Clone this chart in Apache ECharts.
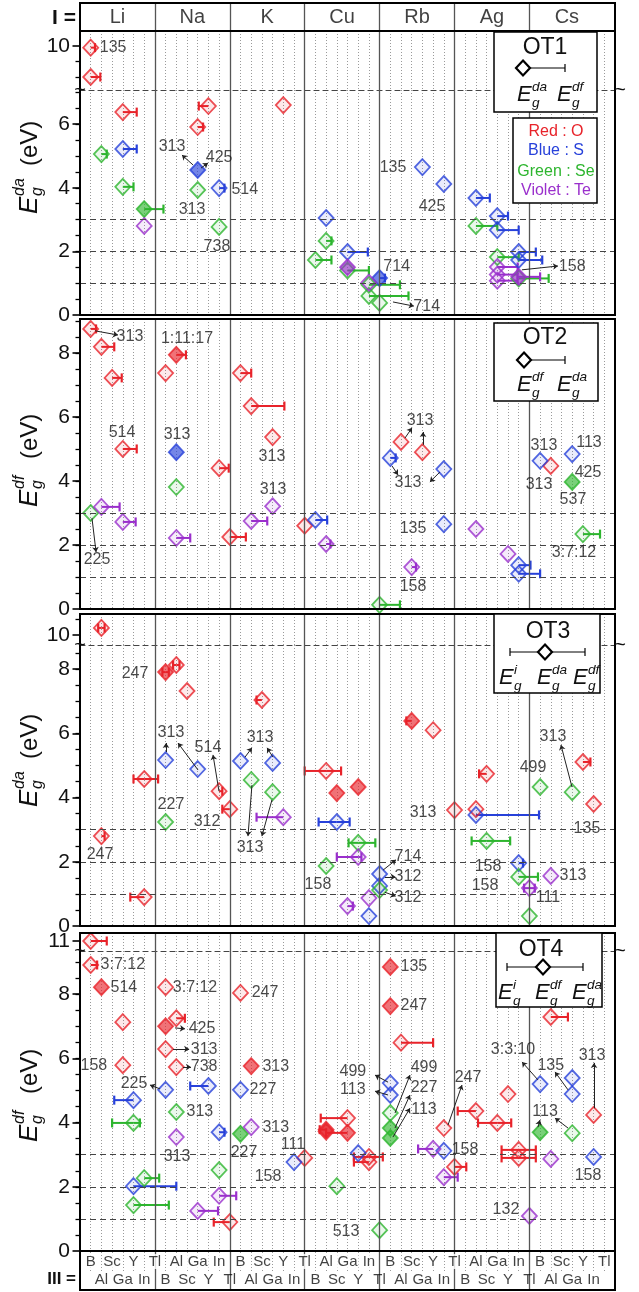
<!DOCTYPE html>
<html><head><meta charset="utf-8">
<script src="https://cdn.jsdelivr.net/npm/echarts@6/dist/echarts.min.js"></script>
<style>html,body{margin:0;padding:0;background:#fff}#c{width:639px;height:1292px}</style>
</head><body><div id="c"></div>
<script>
// ---------- categories ----------
const groups = ['Li','Na','K','Cu','Rb','Ag','Cs'];
const elements = ['B','Al','Sc','Ga','Y','In','Tl'];
// ---------- tick labels ----------
const ticksOT1Up = [10], ticksOT1Lo = [0,2,4,6];
const ticksOT2 = [0,2,4,6,8];
const ticksOT3Up = [10], ticksOT3Lo = [0,2,4,6,8];
const ticksOT4Up = [11], ticksOT4Lo = [0,2,4,6,8];
const refLines = [1,2,3];
const separators = [7,14,21,28,35,42];
// ---------- markers: [column 1..49, Eg (eV), bar left (cols), bar right (cols), filled] ----------
const ot1O = [[1,9.94,0,0.4,0],[1,9.0,0,0.9,0],[4,6.38,0,1.3,0],[12,6.57,-0.9,0,0],[11,5.91,0,0.5,0],[19,6.6,0,0,0]];
const ot1S = [[4,5.22,0,1.3,0],[11,4.56,0,0,1],[13,3.99,0,0.5,0],[23,3.05,0,0,0],[25,1.98,0,1.9,0],[28,1.16,0,0.5,1],
  [32,4.65,0,0,0],[34,4.12,0,0,0],[37,3.68,0,1.3,0],[39,3.11,0,1.0,0],[39,2.67,0,2.0,0],[41,1.98,0,1.6,0],[41,1.73,0,2.2,0]];
const ot1Se = [[2,5.06,0,0.5,0],[4,4.03,0,1.0,0],[6,3.33,0,1.8,1],[11,3.93,0,0,0],[13,2.77,0,0,0],[22,1.73,0,1.5,0],
  [23,2.33,0,0.5,0],[25,1.4,0,2.0,0],[27,0.95,0,2.9,0],[27,0.6,0,3.7,0],[28,0.38,0,0,0],[37,2.8,0,2.0,0],[39,1.82,0,2.0,0],[41,1.15,0,2.8,0]];
const ot1Te = [[6,2.8,0,0,0],[25,1.5,0,0,1],[27,1.02,0,0,0],[39,1.51,0,1.9,0],[39,1.27,0,1.9,0],[39,1.08,0,1.9,0],[41,1.2,0,2.0,1]];

const ot2O = [[1,8.75,0,0.5,0],[2,8.19,0,1.2,0],[3,7.22,0,0.9,0],[4,5.0,0,1.3,0],[8,7.37,0,0,0],[9,7.94,0,0.9,1],
  [13,4.4,0,0.9,0],[14,2.25,0,1.5,0],[15,7.37,0,1.0,0],[16,6.34,0,3.1,0],[18,5.37,0,0,0],[21,2.6,0,0,0],
  [30,5.22,0,0,0],[32,4.9,0,0,0],[44,4.47,0,0,0]];
const ot2S = [[9,4.9,0,0,1],[22,2.78,0,1.1,0],[29,4.72,0,0.5,0],[34,4.37,0,0,0],[34,2.65,0,0,0],[41,1.37,0,1.1,0],
  [41,1.1,0,2.0,0],[43,4.63,0,0,0],[46,4.84,0,0,0]];
const ot2Se = [[1,3.0,0,0,0],[9,3.81,0,0,0],[28,0.13,0,1.9,0],[46,3.97,0,0,1],[47,2.34,0,1.6,0]];
const ot2Te = [[2,3.19,0,1.7,0],[4,2.72,0,1.2,0],[9,2.22,0,1.3,0],[16,2.75,0,1.5,0],[18,3.21,0,0,0],[23,2.03,0,0.4,0],
  [31,1.31,0,0.4,0],[37,2.5,0,0,0],[40,1.72,0,0,0]];

const ot3O = [[2,10.22,-0.3,0.3,0],[2,2.8,0,0.3,0],[6,4.58,-1.0,1.3,0],[6,0.9,-1.3,0,0],[8,7.91,-0.3,0.3,1],[9,8.13,-0.3,0.3,0],
  [10,7.32,0,0,0],[13,4.2,0,0.3,0],[14,3.64,-0.7,0,0],[17,7.04,-0.5,0,0],[23,4.83,-2.0,1.4,0],[24,4.14,0,0,1],[26,4.33,0,0,1],
  [31,6.39,-0.5,0,1],[33,6.1,0,0,0],[35,3.61,0,0,0],[37,3.64,0,0,0],[38,4.74,-0.7,0,0],[47,5.11,0,0.7,0],[48,3.8,0,0,0]];
const ot3S = [[8,5.17,0,0,0],[11,4.89,0,0,0],[15,5.14,0,0,0],[18,5.08,0,0,0],[24,3.24,-1.7,1.2,0],[27,0.31,0,0,0],
  [28,1.62,0,0,0],[28,1.25,0,0,0],[37,3.46,0,5.9,0],[41,1.96,0,0.4,0]];
const ot3Se = [[8,3.24,0,0,0],[16,4.55,0,0,0],[18,4.17,0,0,0],[23,1.87,0,0,0],[26,2.59,-0.9,1.6,0],[28,1.12,0,0,0],
  [38,2.65,-1.4,2.2,0],[41,1.53,0,1.8,0],[42,0.31,0,0,0],[43,4.33,0,0,0],[46,4.17,0,0,0]];
const ot3Te = [[19,3.39,-2.5,0,0],[25,0.62,0,0.5,0],[26,2.15,-2.0,0.3,0],[27,0.87,0,0,0],[42,1.18,-0.5,0.5,0],[44,1.56,0,0,0]];

const ot4O = [[1,11.0,0,1.5,0],[1,8.91,0,0.6,0],[2,8.22,0,0,1],[4,7.13,0,0,0],[4,5.79,0,0,0],[8,8.22,0,0,0],[8,7.0,0,0,1],
  [9,7.25,0,0.8,0],[8,6.29,0,0,0],[9,5.73,0,0,0],[14,0.9,-1.5,0,0],[15,8.04,0,0,0],[16,5.76,0,0,1],[21,2.9,0,0,0],
  [23,3.78,-0.6,0,1],[23,3.72,0,0,1],[25,4.14,-2.5,0,0],[25,3.68,-2.0,0,1],[27,2.93,-1.4,1.3,0],[27,2.77,-1.4,0,0],
  [29,8.85,0,0,1],[29,7.63,0,0,1],[30,6.49,0,3.0,0],[34,3.83,0,0,0],[35,2.62,0,1.1,0],[37,4.36,-1.7,0,0],
  [39,3.99,-1.8,1.3,0],[40,4.89,0,0,0],[41,3.15,-1.6,1.6,0],[41,2.9,-1.6,1.6,0],[44,7.29,0,1.6,0],[48,4.24,0,0,0]];
const ot4S = [[5,4.7,-1.8,0,0],[5,2.02,0,4.0,0],[8,5.02,0,0,0],[12,5.14,-1.7,0,0],[13,3.7,0,0.5,0],[15,5.02,0,0,0],
  [20,2.77,0,0,0],[26,3.05,0,0,0],[29,5.23,0,0,0],[29,4.86,0,0,0],[34,3.12,0,0,0],[43,5.2,0,0,0],[46,5.39,0,0,0],
  [46,4.89,0,0,0],[48,2.93,0,0,0]];
const ot4Se = [[5,3.99,-2.0,0.6,0],[6,2.27,0,1.4,0],[5,1.43,0,3.3,0],[9,4.33,0,0,0],[13,2.52,0,0,0],[15,3.65,0,0,1],
  [24,2.02,0,0,0],[28,0.65,0,0,0],[29,4.3,0,0,0],[29,3.83,0,0,1],[29,3.52,0,0,1],[43,3.7,0,0,1],[46,3.67,0,0,0]];
const ot4Te = [[9,3.55,0,0,0],[11,1.25,0,1.9,0],[13,1.72,0,1.6,0],[16,3.86,0,0,0],[33,3.18,-1.4,0,0],[34,2.3,0,1.3,0],
  [42,1.09,0,0,0],[44,2.87,0,0,0]];

// ---------- annotations: [text, x, y]  and arrows: [x1,y1,x2,y2] ----------
const ot1Notes = [['135',3.1,9.94],['313',8.6,5.31],['425',13.0,4.94],['514',15.4,3.93],['313',10.47,3.33],['738',12.8,2.14],
  ['135',29.25,4.65],['425',32.9,3.4],['714',29.6,1.51],['714',32.4,0.25],['158',46.0,1.51]];
const ot1Arrows = [[10.56,4.72,9.53,5.03],[11.31,4.62,11.96,4.78],[29.25,0.41,31.2,0.28],[41.3,1.42,44.67,1.54]];
const ot2Notes = [['313',4.67,8.5],['514',3.93,5.5],['225',1.59,1.53],['1:11:17',10.0,8.44],['313',9.07,5.44],
  ['313',17.94,4.75],['313',18.04,3.72],['313',31.78,5.9],['313',30.65,3.94],['135',31.12,2.5],['158',31.12,0.69],
  ['313',43.36,5.09],['313',42.9,3.88],['113',47.57,5.19],['425',47.48,4.25],['537',46.07,3.41],['3:7:12',46.17,1.75]];
const ot2Arrows = [[1.4,8.69,3.55,8.56],[1.12,2.84,1.5,1.78],[30.37,5.34,31.03,5.66],[32.06,5.13,32.06,5.53],
  [29.16,4.47,29.72,4.19],[33.64,4.28,32.7,3.97]];
const ot3Notes = [['247',5.14,7.85],['247',1.87,2.21],['313',8.5,6.01],['514',11.96,5.55],['227',8.5,3.77],['312',11.87,3.24],
  ['313',16.82,5.86],['313',15.89,2.43],['158',22.24,1.28],['714',30.65,2.15],['312',30.65,1.53],['312',30.65,0.87],
  ['313',32.06,3.52],['158',38.13,1.84],['158',37.85,1.25],['111',43.74,0.87],['313',46.07,1.56],['499',42.34,4.92],
  ['313',44.2,5.89],['135',47.38,3.05]];
const ot3Arrows = [[8.04,5.42,8.04,5.7],[11.03,4.86,9.16,5.7],[12.99,4.2,12.43,5.33],[15.42,5.26,16.07,5.55],
  [18.04,5.26,17.48,5.55],[16.07,4.39,15.7,2.8],[17.94,3.93,17.0,2.8],[28.32,1.74,29.53,2.06],[28.5,1.53,29.5,1.53],
  [28.5,1.05,29.5,0.93],[45.98,4.33,44.95,5.64]];
const ot4Notes = [['3:7:12',4.0,8.91],['514',4.1,8.22],['158',1.3,5.79],['225',5.05,5.23],['3:7:12',10.75,8.22],
  ['425',11.4,6.92],['313',11.6,6.29],['738',11.6,5.73],['313',11.2,4.33],['313',9.07,2.93],
  ['247',17.29,8.04],['313',18.3,5.76],['227',17.1,5.02],['227',15.33,3.08],['313',18.3,3.86],['158',17.57,2.31],
  ['111',19.9,3.3],['513',24.86,0.59],['135',31.2,8.85],['247',31.2,7.63],['499',25.5,5.58],['113',25.5,5.02],
  ['499',32.15,5.7],['227',32.15,5.08],['113',32.15,4.39],['247',36.26,5.39],['158',35.98,3.15],['132',39.81,1.28],
  ['3:3:10',40.47,6.26],['135',44.0,5.79],['113',43.46,4.33],['313',47.85,6.1],['158',47.48,2.34]];
const ot4Arrows = [[7.48,5.05,6.54,5.17],[8.88,6.95,9.81,6.92],[8.7,6.29,10.2,6.29],[9.63,5.73,10.37,5.73],
  [28.79,5.26,27.57,5.48],[28.79,4.86,27.57,4.98],[29.44,4.3,30.84,5.48],[29.44,3.83,30.84,4.86],[29.25,3.55,30.84,4.45],
  [34.39,3.92,35.7,5.17],[42.8,5.33,41.31,5.89],[45.61,5.02,44.39,5.58],[42.8,3.86,42.99,4.08],[45.61,3.83,44.39,4.14],
  [48.04,4.45,48.04,5.86]];

// ---------- styling / layout ----------
const FF = "'Liberation Sans', Arial, sans-serif";
const COLORS = {O:'#e8232a', S:'#2741da', Se:'#2db52e', Te:'#9a2fcc'};
const FILLS = {O:'rgba(232,35,42,0.12)', S:'rgba(39,65,218,0.12)', Se:'rgba(45,181,46,0.12)', Te:'rgba(154,47,204,0.12)'};
const SOLID = {O:'rgba(232,35,42,0.8)', S:'rgba(39,65,218,0.8)', Se:'rgba(45,181,46,0.8)', Te:'rgba(154,47,204,0.8)'};
const LEFT = 80, WIDTH = 535;
function halves(max){const a=[];for(let v=0.5;v<=max+1e-9;v+=0.5)a.push(v);return a;}
const panels = [
  {data:{O:ot1O,S:ot1S,Se:ot1Se,Te:ot1Te}, notes:ot1Notes, arrows:ot1Arrows, frame:[31,315],
   segs:[{top:31,bottom:90,min:8.585,max:10.472,ticks:ticksOT1Up,minor:[9,9.5]},
         {top:90,bottom:315,min:0,max:7.075,ticks:ticksOT1Lo,minor:halves(7)}]},
  {data:{O:ot2O,S:ot2S,Se:ot2Se,Te:ot2Te}, notes:ot2Notes, arrows:ot2Arrows, frame:[319,609],
   segs:[{top:319,bottom:609,min:0,max:9.06,ticks:ticksOT2,minor:halves(9)}]},
  {data:{O:ot3O,S:ot3S,Se:ot3Se,Te:ot3Te}, notes:ot3Notes, arrows:ot3Arrows, frame:[614,926],
   segs:[{top:614,bottom:645,min:9.688,max:10.654,ticks:ticksOT3Up,minor:[10.5]},
         {top:645,bottom:926,min:0,max:8.754,ticks:ticksOT3Lo,minor:halves(8.5)}]},
  {data:{O:ot4O,S:ot4S,Se:ot4Se,Te:ot4Te}, notes:ot4Notes, arrows:ot4Arrows, frame:[933,1251],
   segs:[{top:933,bottom:951,min:10.688,max:11.249,ticks:ticksOT4Up,minor:[]},
         {top:951,bottom:1251,min:0,max:9.346,ticks:ticksOT4Lo,minor:halves(9)}]}
];

const grids=[], xAxes=[], yAxes=[], series=[];
function baseGrid(top,bottom,xo,yo){
  const gi=grids.length;
  grids.push({left:LEFT,width:WIDTH,top:top,height:bottom-top});
  const xi=xAxes.length;
  xAxes.push(Object.assign({gridIndex:gi,type:'value',min:0,max:50,interval:1,axisLabel:{show:false},axisTick:{show:false},
    axisLine:{show:false},splitLine:{show:false}},xo));
  const yi=yAxes.length;
  yAxes.push(Object.assign({gridIndex:gi,type:'value',position:'left',axisLine:{show:false},splitLine:{show:false},
    axisTick:{show:false},axisLabel:{show:false}},yo));
  return {gi,xi,yi};
}
function addGrid(top,bottom,o){
  // minor-tick layer first (ticks follow its transparent labels)
  if(o.minor&&o.minor.length){
    const m=baseGrid(top,bottom,{},{min:o.min,max:o.max,
      axisTick:{show:true,customValues:o.minor,length:4.5,lineStyle:{color:'#000',width:1.3}},
      axisLabel:{show:true,customValues:o.minor,color:'rgba(255,255,255,0)',fontSize:8,margin:6}});
    series.push({type:'scatter',xAxisIndex:m.xi,yAxisIndex:m.yi,symbolSize:0,silent:true,
      itemStyle:{color:'rgba(0,0,0,0)'},data:o.minor.map(v=>[0,v])});
  }
  const g=baseGrid(top,bottom,{
    axisLine:{show:!!o.dashedBottom,lineStyle:{color:'#444',type:[5,4],width:1.2}},
    splitLine:{show:!!o.dotted,lineStyle:{color:'#9a9a9a',type:[1,2],width:1}}},
    {min:o.min,max:o.max,inverse:!!o.inverse,
     axisTick:{show:!!o.ticks,customValues:o.ticks||[],length:7.5,lineStyle:{color:'#000',width:1.6}},
     axisLabel:{show:!!o.ticks,customValues:o.ticks||[],fontSize:21,color:'#111',fontFamily:FF,margin:10}});
  const ml=separators.map(s=>({xAxis:s}));
  const mlRef=(o.ref||[]).filter(v=>v>o.min&&v<o.max).map(v=>({yAxis:v}));
  series.push({type:'line',xAxisIndex:g.xi,yAxisIndex:g.yi,data:[],silent:true,z:1,
    markLine:{silent:true,symbol:'none',label:{show:false},animation:false,
      lineStyle:{color:'#555',type:'solid',width:1.3},data:ml}});
  if(mlRef.length) series.push({type:'line',xAxisIndex:g.xi,yAxisIndex:g.yi,data:[],silent:true,z:1,
    markLine:{silent:true,symbol:'none',label:{show:false},animation:false,
      lineStyle:{color:'#444',type:[6,4],width:1.1},data:mlRef}});
  return g;
}

// header
const hdr = addGrid(3,31,{min:0,max:1,inverse:true});
series.push({type:'scatter',xAxisIndex:hdr.xi,yAxisIndex:hdr.yi,symbolSize:1,itemStyle:{color:'rgba(0,0,0,0)'},silent:true,
  data:groups.map((g,i)=>({value:[3.5+7*i,0.5],name:g})),
  label:{show:true,position:'inside',formatter:'{b}',fontSize:20,color:'#111',fontFamily:FF}});

panels.forEach(p=>{
  p.segs.forEach((s,si)=>{
    const g = addGrid(s.top,s.bottom,{min:s.min,max:s.max,ticks:s.ticks,minor:s.minor,dotted:true,
      dashedBottom:(p.segs.length>1&&si===0),ref:refLines});
    const inSeg=v=>v>=s.min&&v<=s.max;
    Object.keys(p.data).forEach(k=>{
      const pts=p.data[k].filter(d=>inSeg(d[1]));
      const col=COLORS[k];
      series.push({type:'custom',xAxisIndex:g.xi,yAxisIndex:g.yi,silent:true,z:3,clip:false,
        data:pts.map(d=>[d[0],d[1],d[2],d[3]]),encode:{x:0,y:1},
        renderItem:(params,api)=>{
          const x=api.value(0),y=api.value(1),l=api.value(2),r=api.value(3);
          const c=api.coord([x,y]);const ch=[];
          [l,r].forEach(len=>{
            if(!len)return;
            const e=api.coord([x+len,y]);
            ch.push({type:'line',shape:{x1:c[0],y1:c[1],x2:e[0],y2:e[1]},style:{stroke:col,lineWidth:2}});
            ch.push({type:'line',shape:{x1:e[0],y1:e[1]-4.5,x2:e[0],y2:e[1]+4.5},style:{stroke:col,lineWidth:2.2}});
          });
          return {type:'group',children:ch};
        }});
      series.push({type:'scatter',xAxisIndex:g.xi,yAxisIndex:g.yi,silent:true,z:4,symbol:'diamond',symbolSize:[15,16],
        data:pts.map(d=>({value:[d[0],d[1]],itemStyle:{color:d[4]?SOLID[k]:FILLS[k],borderColor:col,borderWidth:1.8}}))});
    });
    const notes=p.notes.filter(n=>inSeg(n[2]));
    if(notes.length) series.push({type:'scatter',xAxisIndex:g.xi,yAxisIndex:g.yi,symbolSize:1,silent:true,z:6,
      itemStyle:{color:'rgba(0,0,0,0)'},data:notes.map(n=>({value:[n[1],n[2]],name:n[0]})),
      label:{show:true,position:'inside',formatter:'{b}',fontSize:16,color:'#1a1a1a',fontFamily:FF}});
    const arr=p.arrows.filter(a=>inSeg(a[1]));
    if(arr.length) series.push({type:'lines',coordinateSystem:'cartesian2d',xAxisIndex:g.xi,yAxisIndex:g.yi,silent:true,z:5,
      symbol:['none','arrow'],symbolSize:5,lineStyle:{color:'#222',width:1,opacity:1},
      data:arr.map(a=>({coords:[[a[0],a[1]],[a[2],a[3]]]}))});
  });
});

// bottom label box: two rows
const bTop = addGrid(1252,1271,{min:0,max:1,inverse:true,dotted:true});
const bBot = addGrid(1271,1290,{min:0,max:1,inverse:true});
const colsAll=[];for(let c=1;c<=49;c++)colsAll.push(c);
function elName(c){return elements[(c-1)%7];}
series.push({type:'scatter',xAxisIndex:bTop.xi,yAxisIndex:bTop.yi,symbolSize:1,silent:true,z:6,itemStyle:{color:'rgba(0,0,0,0)'},
  data:colsAll.filter(c=>c%2===1).map(c=>({value:[c,0.5],name:elName(c)})),
  label:{show:true,position:'inside',formatter:'{b}',fontSize:15,color:'#111',fontFamily:FF,backgroundColor:'#fff',padding:[0,1]}});
series.push({type:'scatter',xAxisIndex:bBot.xi,yAxisIndex:bBot.yi,symbolSize:1,silent:true,z:6,itemStyle:{color:'rgba(0,0,0,0)'},
  data:colsAll.filter(c=>c%2===0).map(c=>({value:[c,0.45],name:elName(c)})),
  label:{show:true,position:'inside',formatter:'{b}',fontSize:15,color:'#111',fontFamily:FF}});

// ---------- graphics: frames, titles, legends ----------
const G=[];
function txt(x,y,t,fs,o){o=o||{};return {type:'text',x:x,y:y,z:20,style:{text:t,font:(o.italic?'italic ':'')+(o.bold?'bold ':'')+fs+'px '+FF,
  fill:o.fill||'#111',align:o.align||'center',textAlign:o.align||'center',verticalAlign:'middle',textVerticalAlign:'middle'}};}
function rect(x1,y1,x2,y2,lw,fill){return {type:'rect',z:15,shape:{x:x1,y:y1,width:x2-x1,height:y2-y1},style:{fill:fill||'none',stroke:'#000',lineWidth:lw}};}
function eLabel(cx,cy,sup,fs){
  return {type:'group',x:cx,y:cy,z:20,children:[
    txt(-fs*0.02,0,'E',fs,{italic:true,align:'right'}),
    txt(0,fs*0.36,'g',fs*0.62,{italic:true,align:'left'}),
    txt(0,-fs*0.36,sup,fs*0.62,{italic:true,align:'left'})]};
}
function yTitle(bottomY,sup){
  return {type:'group',x:30,y:bottomY,rotation:Math.PI/2,z:20,children:[
    txt(0,0,'E',26,{italic:true,align:'left'}),
    txt(18,8,'g',16,{italic:true,align:'left'}),
    txt(18,-10,sup,16,{italic:true,align:'left'}),
    txt(48,0,'(eV)',24,{align:'left'})]};
}
function diamond(x,y){return {type:'polygon',z:21,shape:{points:[[x,y-7.5],[x+7,y],[x,y+7.5],[x-7,y]]},style:{fill:'#fff',stroke:'#000',lineWidth:2.2}};}
function hline(x1,x2,y){return {type:'line',z:20,shape:{x1:x1,y1:y,x2:x2,y2:y},style:{stroke:'#000',lineWidth:1}};}
function vcap(x,y){return {type:'line',z:20,shape:{x1:x,y1:y-4,x2:x,y2:y+4},style:{stroke:'#000',lineWidth:1.2}};}

G.push(rect(80,3,615,31,2));
panels.forEach(p=>G.push(rect(80,p.frame[0],615,p.frame[1],2)));
G.push(rect(80,1251,615,1290,2));
G.push(txt(76,18,'I =',21,{align:'right',bold:true}));
G.push(txt(76,1279,'III =',17,{align:'right',bold:true}));
[90,645,951].forEach(b=>{
  G.push(txt(80,b,'~',20,{}));
  G.push(txt(620,b,'~',20,{}));
});
G.push(yTitle(214,'da'));
G.push(yTitle(507,'df'));
G.push(yTitle(807,'da'));
G.push(yTitle(1142,'df'));

G.push(rect(494,32,597,112,1.5,'#fff'));
G.push(txt(545,48,'OT1',23));
G.push(hline(530,565,68));G.push(vcap(565,68));G.push(diamond(523,68));
G.push(eLabel(532,95,'da',22));G.push(eLabel(572,95,'df',22));
G.push(rect(513,118,597,203,1.5,'#fff'));
G.push(txt(556,132,'Red : O',16,{fill:COLORS.O}));
G.push(txt(556,151,'Blue : S',16,{fill:COLORS.S}));
G.push(txt(556,172,'Green : Se',16,{fill:COLORS.Se}));
G.push(txt(556,191,'Violet : Te',16,{fill:COLORS.Te}));

G.push(rect(494,323,598,401,1.5,'#fff'));
G.push(txt(545,338,'OT2',23));
G.push(hline(531,565,360));G.push(vcap(565,360));G.push(diamond(524,360));
G.push(eLabel(532,385,'df',22));G.push(eLabel(572,385,'da',22));

G.push(rect(494,614,600,693,1.5,'#fff'));
G.push(txt(548,632,'OT3',23));
G.push(hline(510,585,652));G.push(vcap(510,652));G.push(vcap(585,652));G.push(diamond(545,652));
G.push(eLabel(514,678,'i',22));G.push(eLabel(552,678,'da',22));G.push(eLabel(588,678,'df',22));

G.push(rect(496,933,602,1007,1.5,'#fff'));
G.push(txt(541,950,'OT4',23));
G.push(hline(507,583,967));G.push(vcap(507,967));G.push(vcap(583,967));G.push(diamond(543,967));
G.push(eLabel(513,993,'i',22));G.push(eLabel(550,993,'df',22));G.push(eLabel(587,993,'da',22));

const chart = echarts.init(document.getElementById('c'));
chart.setOption({animation:false,backgroundColor:'#fff',grid:grids,xAxis:xAxes,yAxis:yAxes,series:series,graphic:{elements:G}});
</script></body></html>
